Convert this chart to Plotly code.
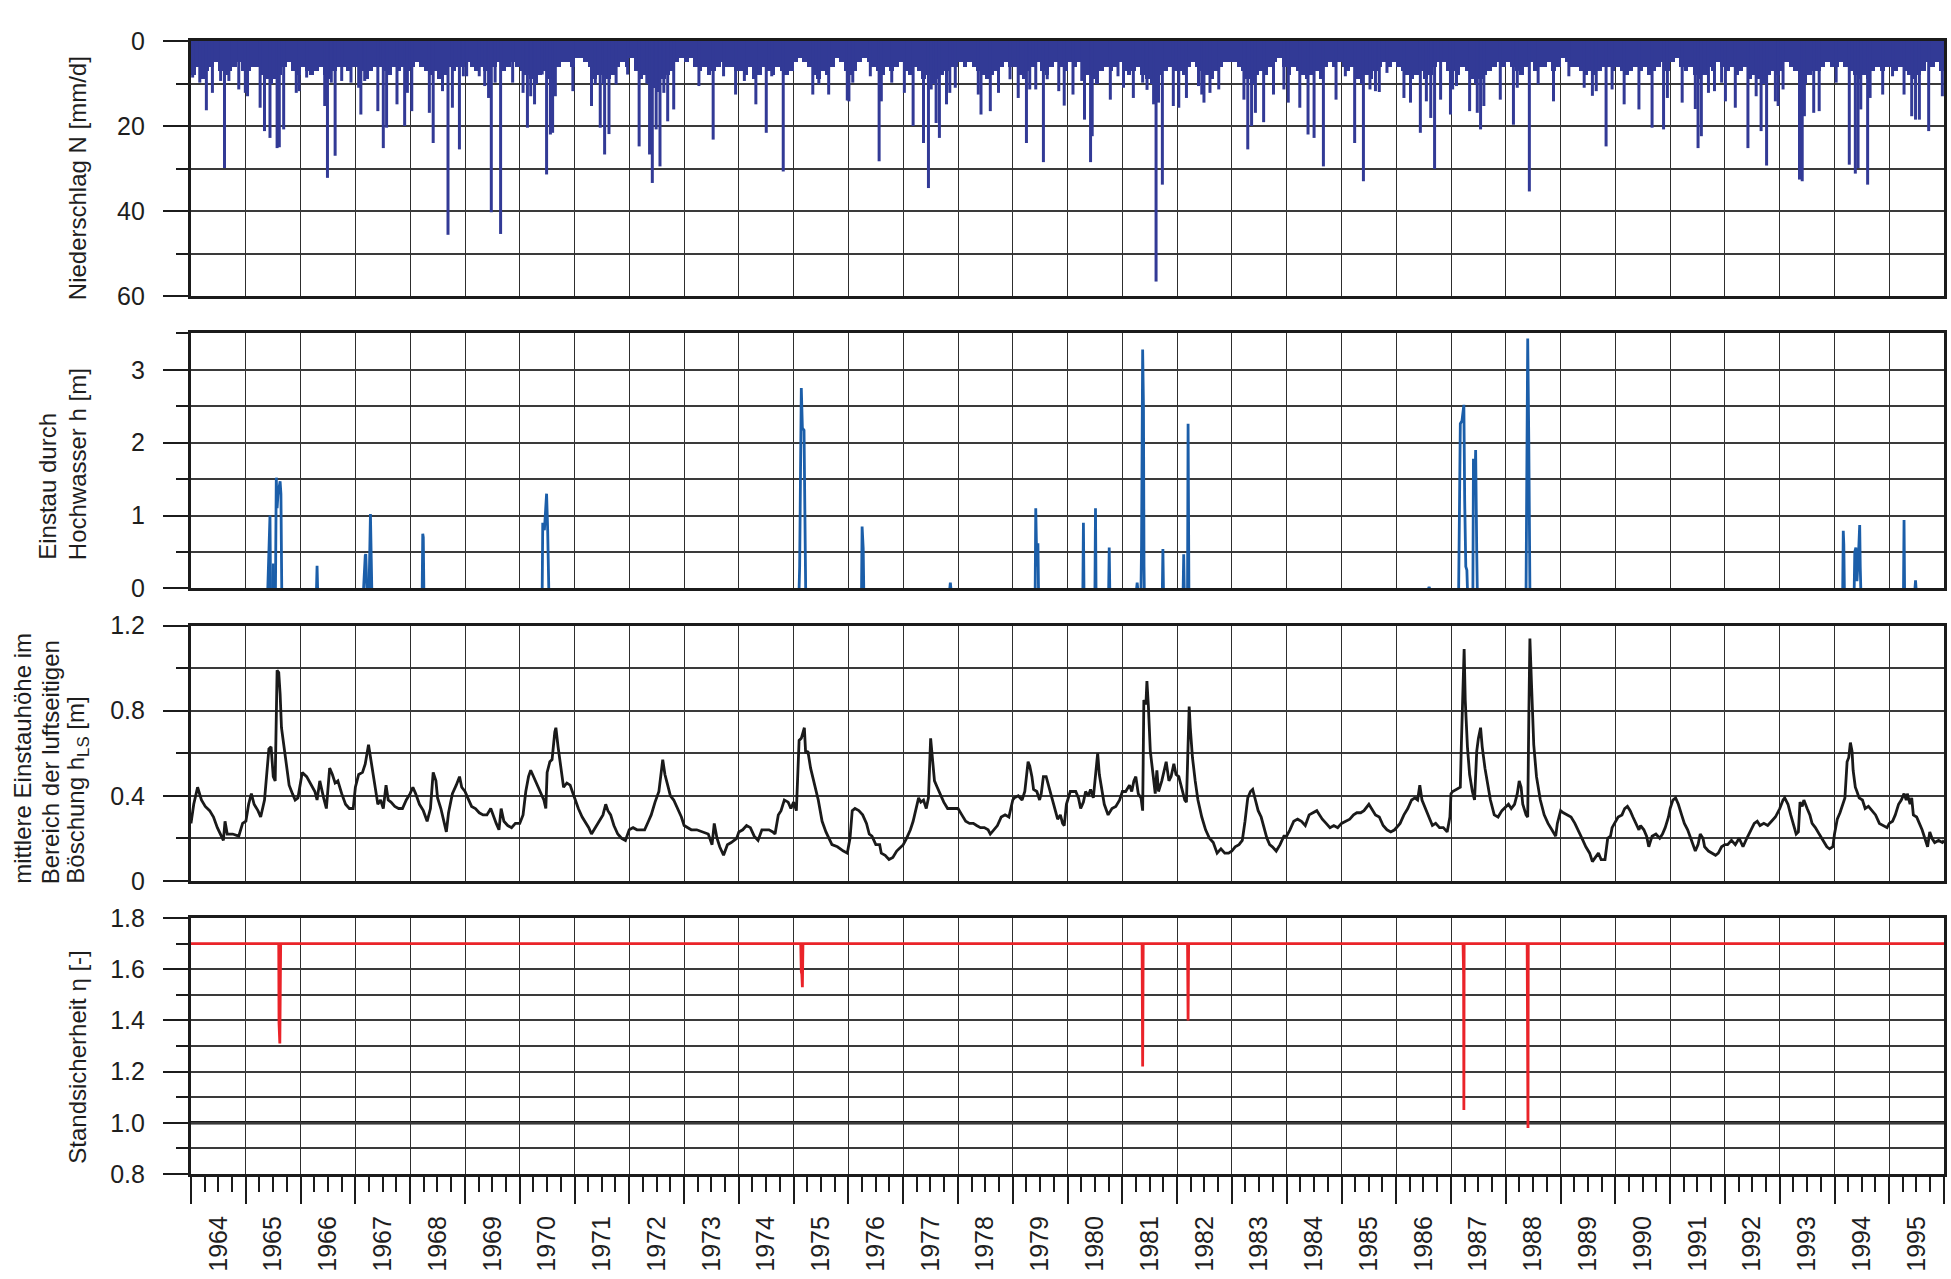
import plotly.graph_objects as go
from datetime import datetime
import calendar

# ---------------- DATA ----------------
years = list(range(1964, 1996))
year_labels = [str(y) for y in years]

# typical monthly depth of the dense daily-precipitation band [mm/d], Jan 1964 .. Dec 1995
precip_base_mm = [
    8,6,9,7,6,5,7,8,7,6,5,7,  7,6,6,8,9,10,9,8,6,5,7,8,  6,7,8,7,6,8,9,7,6,6,7,6,
    6,7,9,7,6,6,7,8,6,7,6,7,  6,5,6,7,8,7,9,8,6,7,6,6,  5,6,7,6,7,8,6,5,7,6,5,6,
    7,8,9,10,8,7,9,9,6,5,5,6, 4,4,5,6,9,8,10,9,8,6,5,6, 4,7,9,8,10,11,12,9,8,7,5,4,
    5,4,6,7,6,8,7,6,5,6,6,7,  7,8,6,9,8,6,7,8,6,7,8,7,  5,4,5,6,8,9,7,8,6,4,5,7,
    8,7,5,4,5,6,7,8,6,7,6,5,  7,8,6,7,9,8,10,9,8,7,6,6, 5,6,5,6,7,8,9,8,7,6,5,6,
    6,8,9,7,6,5,7,8,6,5,6,7,  5,6,5,7,8,9,10,7,6,7,6,5, 7,8,7,6,8,9,10,9,8,7,6,7,
    7,8,6,5,6,7,8,9,7,6,5,5,  5,6,7,9,10,8,7,8,6,5,4,6, 8,6,7,8,9,8,7,9,6,5,6,5,
    6,7,6,9,10,8,9,7,6,5,6,5, 6,7,8,9,8,7,9,8,6,5,5,7,  7,8,6,7,9,10,9,8,7,6,5,6,
    5,6,7,8,6,5,7,6,6,5,7,6,  4,5,6,6,7,8,7,8,7,6,6,7,  6,7,8,7,6,7,6,8,7,6,5,7,
    5,4,6,7,6,8,9,8,6,7,5,6,  7,6,8,7,6,9,8,9,10,8,7,8, 7,5,6,7,9,10,8,7,7,6,5,6,
    6,5,6,7,8,9,8,9,7,6,7,6,  6,7,6,7,8,9,8,7,5,6,5,7,
]

# individual heavy-rain days: (decimal year, mm/d)
precip_spikes = [
    (1964.03,8.6),(1964.16,9.8),(1964.28,16.3),(1964.39,12.2),(1964.54,9.4),(1964.61,29.9),(1964.69,9.4),(1964.87,11.4),(1964.99,12.2),
    (1965.03,13),(1965.26,15.7),(1965.34,21.2),(1965.44,22.8),(1965.57,25.2),(1965.61,25),(1965.69,20.8),(1965.92,12.2),(1965.97,11.8),
    (1966.11,8.6),(1966.44,15.3),(1966.49,32.2),(1966.56,9.8),(1966.63,27),(1966.75,9.4),(1966.92,9.8),
    (1967.06,11),(1967.10,17.3),(1967.17,9.4),(1967.41,16.5),(1967.51,25.2),(1967.57,20.4),(1967.76,14.9),(1967.90,20),(1967.95,12.2),
    (1968.03,16.5),(1968.35,16.9),(1968.42,24),(1968.59,11.8),(1968.69,45.6),(1968.77,15.7),(1968.898,25.5),(1968.97,8.3),
    (1969.03,8.3),(1969.26,8.3),(1969.36,10.6),(1969.43,13.4),(1969.48,40.3),(1969.55,9.8),(1969.65,45.4),(1969.87,9.8),
    (1970.06,12.2),(1970.14,20.4),(1970.20,13),(1970.27,14.9),(1970.41,7.9),(1970.49,31.4),(1970.56,22),(1970.60,21.6),(1970.65,13),(1970.97,11.8),
    (1971.31,15.3),(1971.38,10.2),(1971.47,20.4),(1971.55,26.7),(1971.63,21.9),(1971.76,10.2),(1971.97,7.9),
    (1972.18,24.8),(1972.32,10),(1972.37,26.7),(1972.42,33.4),(1972.49,20.8),(1972.56,29.5),(1972.63,12.2),(1972.70,18.9),(1972.81,16.1),
    (1973.27,10.6),(1973.53,23.2),(1973.72,8.3),(1973.94,12.6),
    (1974.10,9.4),(1974.31,14.9),(1974.50,21.6),(1974.60,8.3),(1974.81,30.7),
    (1975.35,12.6),(1975.46,10.2),(1975.64,12.6),(1975.98,14),
    (1976.01,14.2),(1976.08,9.8),(1976.40,8.3),(1976.56,28.3),(1976.60,14.2),(1976.79,9.8),
    (1977.02,12.2),(1977.18,20),(1977.37,24),(1977.46,34.6),(1977.51,11.4),(1977.60,19.3),(1977.66,22.8),(1977.79,14.9),(1977.85,12.2),(1977.95,11),
    (1978.37,12.6),(1978.42,17.3),(1978.59,16.5),(1978.74,12.2),(1978.95,9),
    (1979.10,13.4),(1979.25,24),(1979.31,11.4),(1979.42,11.4),(1979.56,28.5),(1979.63,9),(1979.84,11.8),(1979.94,15.2),
    (1980.10,12.6),(1980.26,9.4),(1980.31,18.5),(1980.42,28.5),(1980.45,22.4),(1980.78,13.8),(1980.92,8.3),
    (1981.02,11),(1981.20,13.4),(1981.37,9.8),(1981.45,11.5),(1981.57,14.9),(1981.615,56.6),(1981.66,14.5),(1981.73,33.8),(1981.93,15.3),
    (1982.03,15.7),(1982.17,13.4),(1982.39,10.6),(1982.45,12.6),(1982.49,14.5),(1982.60,12.2),(1982.76,11.4),
    (1983.22,13.8),(1983.29,25.5),(1983.36,20),(1983.43,16.9),(1983.58,19.1),(1983.76,12.6),(1983.95,11.4),
    (1984.03,14.5),(1984.24,15.7),(1984.39,22),(1984.50,22.8),(1984.67,29.5),(1984.90,13.8),
    (1985.07,8.3),(1985.24,24),(1985.40,33),(1985.52,11.4),(1985.62,11.8),(1985.69,12),(1985.83,7.5),
    (1986.14,13.4),(1986.26,14.5),(1986.44,21.6),(1986.55,14.2),(1986.63,18.1),(1986.70,30.1),(1986.81,13.8),(1986.99,17.3),
    (1987.03,11.4),(1987.10,10.6),(1987.34,16.5),(1987.48,16.9),(1987.54,20.8),(1987.60,15.3),(1987.90,13.8),
    (1988.14,19.7),(1988.21,11),(1988.43,35.4),(1988.59,10.2),(1988.87,14.2),
    (1989.15,8.3),(1989.43,11),(1989.58,12.9),(1989.65,11.8),(1989.83,24.8),(1989.94,11.4),
    (1990.16,14.9),(1990.43,16.1),(1990.67,20.4),(1990.88,20.8),(1990.95,13.4),
    (1991.22,14.5),(1991.46,16),(1991.51,25.2),(1991.57,22.4),(1991.70,12.2),(1991.81,11.8),(1991.94,9.8),
    (1992.01,14.2),(1992.19,15.7),(1992.42,25.2),(1992.57,13),(1992.66,21.2),(1992.76,29.3),(1992.92,14.2),(1992.97,15.3),
    (1993.06,11.4),(1993.36,32.6),(1993.41,33),(1993.45,17.7),(1993.62,16.9),(1993.72,16.5),
    (1994.03,9.8),(1994.27,29.1),(1994.38,31.2),(1994.43,29.9),(1994.48,16.1),(1994.605,33.8),(1994.65,13.4),(1994.88,12.6),
    (1995.06,8.3),(1995.27,12.6),(1995.41,17.7),(1995.48,18.5),(1995.55,18.5),(1995.72,21.2),(1995.97,13),
]

# flood stage h [m]: one list of (decimal year, m) per flood event
flood_events = [
    [(1965.40,0),(1965.41,0.30),(1965.425,0.90),(1965.44,1.00),(1965.45,0)],
    [(1965.49,0),(1965.50,0.34),(1965.51,0)],
    [(1965.54,0),(1965.555,1.52),(1965.57,1.10),(1965.585,1.28),(1965.625,1.47),(1965.64,1.30),(1965.655,0)],
    [(1966.29,0),(1966.30,0.31),(1966.31,0)],
    [(1967.15,0),(1967.16,0.25),(1967.18,0.45),(1967.19,0.47),(1967.20,0.05),(1967.21,0)],
    [(1967.25,0),(1967.26,0.30),(1967.275,1.02),(1967.29,0.40),(1967.30,0)],
    [(1968.22,0),(1968.23,0.75),(1968.24,0.70),(1968.25,0)],
    [(1970.41,0),(1970.42,0.90),(1970.45,0.80),(1970.49,1.30),(1970.51,0.80),(1970.53,0)],
    [(1975.10,0),(1975.11,0.30),(1975.14,2.75),(1975.16,2.20),(1975.19,2.17),(1975.21,0.50),(1975.22,0)],
    [(1976.24,0),(1976.25,0.85),(1976.27,0.55),(1976.28,0)],
    [(1977.85,0),(1977.86,0.08),(1977.87,0)],
    [(1979.41,0),(1979.42,1.10),(1979.44,0.30),(1979.46,0.62),(1979.47,0)],
    [(1980.28,0),(1980.29,0.90),(1980.30,0)],
    [(1980.50,0),(1980.51,1.10),(1980.52,0)],
    [(1980.75,0),(1980.76,0.56),(1980.77,0)],
    [(1981.26,0),(1981.27,0.08),(1981.28,0)],
    [(1981.34,0),(1981.35,0.60),(1981.37,3.28),(1981.385,2.50),(1981.395,0.30),(1981.40,0)],
    [(1981.73,0),(1981.74,0.54),(1981.75,0)],
    [(1982.11,0),(1982.12,0.47),(1982.13,0)],
    [(1982.19,0),(1982.20,2.26),(1982.215,0)],
    [(1986.59,0),(1986.60,0.02),(1986.61,0)],
    [(1987.14,0),(1987.16,2.00),(1987.17,2.26),(1987.20,2.30),(1987.235,2.52),(1987.25,1.20),(1987.27,0.30),(1987.29,0.25),(1987.30,0)],
    [(1987.40,0),(1987.41,1.78),(1987.44,1.50),(1987.45,1.90),(1987.47,0.50),(1987.48,0)],
    [(1988.37,0),(1988.38,1.50),(1988.40,3.43),(1988.42,2.00),(1988.43,0.80),(1988.44,0)],
    [(1994.15,0),(1994.16,0.79),(1994.17,0.60),(1994.18,0)],
    [(1994.36,0),(1994.37,0.50),(1994.39,0.56),(1994.41,0.10),(1994.44,0.50),(1994.46,0.87),(1994.47,0.30),(1994.48,0)],
    [(1995.26,0),(1995.27,0.94),(1995.28,0)],
    [(1995.47,0),(1995.48,0.11),(1995.49,0)],
]

# mean water level in landside slope h_LS [m]
hls_points = [
    (1964.00,0.27),(1964.05,0.36),(1964.12,0.44),(1964.19,0.38),(1964.26,0.35),(1964.34,0.33),(1964.41,0.30),(1964.48,0.25),(1964.59,0.19),(1964.62,0.28),(1964.66,0.22),(1964.76,0.22),(1964.87,0.21),(1964.94,0.27),
    (1965.00,0.28),(1965.05,0.36),(1965.10,0.41),(1965.15,0.36),(1965.22,0.33),(1965.27,0.30),(1965.34,0.38),(1965.38,0.50),(1965.42,0.62),(1965.46,0.63),(1965.50,0.49),(1965.535,0.47),(1965.57,0.99),(1965.60,0.98),(1965.625,0.88),(1965.65,0.72),(1965.69,0.64),(1965.74,0.55),(1965.79,0.45),(1965.85,0.41),(1965.90,0.38),(1965.95,0.39),
    (1966.00,0.47),(1966.03,0.51),(1966.11,0.49),(1966.19,0.45),(1966.26,0.42),(1966.30,0.38),(1966.35,0.47),(1966.42,0.39),(1966.47,0.34),(1966.53,0.53),(1966.58,0.50),(1966.63,0.46),(1966.68,0.47),(1966.75,0.41),(1966.82,0.36),(1966.89,0.34),(1966.96,0.34),
    (1967.00,0.44),(1967.06,0.50),(1967.13,0.51),(1967.18,0.55),(1967.24,0.64),(1967.28,0.58),(1967.32,0.50),(1967.38,0.41),(1967.41,0.36),(1967.46,0.38),(1967.51,0.34),(1967.56,0.45),(1967.60,0.38),(1967.65,0.37),(1967.72,0.35),(1967.79,0.34),(1967.86,0.34),(1967.93,0.38),
    (1968.00,0.41),(1968.05,0.44),(1968.10,0.41),(1968.17,0.36),(1968.24,0.33),(1968.31,0.28),(1968.37,0.34),(1968.42,0.51),(1968.47,0.47),(1968.50,0.39),(1968.56,0.34),(1968.62,0.27),(1968.66,0.23),(1968.70,0.32),(1968.77,0.41),(1968.84,0.45),(1968.90,0.49),(1968.94,0.44),
    (1969.00,0.42),(1969.05,0.39),(1969.12,0.35),(1969.19,0.34),(1969.26,0.32),(1969.33,0.31),(1969.40,0.31),(1969.47,0.34),(1969.52,0.30),(1969.57,0.27),(1969.62,0.24),(1969.66,0.34),(1969.71,0.28),(1969.78,0.26),(1969.85,0.25),(1969.92,0.27),
    (1970.00,0.27),(1970.06,0.31),(1970.11,0.42),(1970.16,0.49),(1970.20,0.52),(1970.25,0.49),(1970.30,0.46),(1970.37,0.42),(1970.44,0.38),(1970.476,0.34),(1970.50,0.51),(1970.55,0.56),(1970.59,0.57),(1970.64,0.70),(1970.66,0.72),(1970.70,0.63),(1970.76,0.50),(1970.80,0.44),(1970.86,0.46),(1970.92,0.45),(1970.96,0.42),
    (1971.00,0.39),(1971.07,0.34),(1971.14,0.30),(1971.21,0.27),(1971.26,0.25),(1971.31,0.22),(1971.38,0.25),(1971.45,0.28),(1971.52,0.31),(1971.57,0.36),(1971.61,0.33),(1971.66,0.31),(1971.72,0.26),(1971.79,0.22),(1971.86,0.20),(1971.93,0.19),(1971.97,0.22),
    (1972.00,0.24),(1972.07,0.25),(1972.14,0.24),(1972.21,0.24),(1972.28,0.24),(1972.35,0.28),(1972.40,0.31),(1972.47,0.37),(1972.54,0.42),(1972.61,0.57),(1972.65,0.50),(1972.70,0.45),(1972.75,0.40),(1972.81,0.38),(1972.88,0.34),(1972.95,0.30),
    (1973.00,0.26),(1973.06,0.25),(1973.13,0.24),(1973.23,0.24),(1973.34,0.23),(1973.44,0.22),(1973.51,0.17),(1973.55,0.27),(1973.60,0.20),(1973.65,0.16),(1973.72,0.12),(1973.79,0.17),(1973.86,0.18),(1973.96,0.20),
    (1974.00,0.23),(1974.07,0.24),(1974.14,0.26),(1974.21,0.25),(1974.28,0.21),(1974.35,0.19),(1974.42,0.24),(1974.49,0.24),(1974.55,0.24),(1974.62,0.23),(1974.66,0.22),(1974.72,0.31),(1974.77,0.33),(1974.83,0.38),(1974.90,0.37),(1974.95,0.34),
    (1975.00,0.37),(1975.05,0.33),(1975.10,0.66),(1975.14,0.67),(1975.196,0.72),(1975.22,0.60),(1975.26,0.61),(1975.31,0.53),(1975.38,0.45),(1975.45,0.38),(1975.52,0.28),(1975.59,0.23),(1975.70,0.17),(1975.80,0.16),(1975.91,0.14),(1975.98,0.13),
    (1976.03,0.20),(1976.07,0.33),(1976.12,0.34),(1976.19,0.33),(1976.26,0.31),(1976.33,0.27),(1976.38,0.22),(1976.43,0.21),(1976.50,0.17),(1976.57,0.17),(1976.60,0.13),(1976.67,0.12),(1976.74,0.10),(1976.81,0.11),(1976.88,0.14),(1976.95,0.16),
    (1977.00,0.17),(1977.06,0.20),(1977.13,0.24),(1977.18,0.28),(1977.23,0.33),(1977.28,0.39),(1977.32,0.37),(1977.37,0.38),(1977.42,0.34),(1977.46,0.39),(1977.50,0.67),(1977.53,0.58),(1977.57,0.47),(1977.62,0.44),(1977.67,0.41),(1977.74,0.37),(1977.81,0.34),(1977.88,0.34),(1977.95,0.34),
    (1978.00,0.34),(1978.07,0.31),(1978.14,0.28),(1978.21,0.27),(1978.28,0.27),(1978.34,0.26),(1978.41,0.25),(1978.48,0.25),(1978.55,0.24),(1978.59,0.22),(1978.66,0.24),(1978.72,0.26),(1978.79,0.30),(1978.86,0.31),(1978.93,0.30),
    (1979.00,0.38),(1979.03,0.39),(1979.10,0.40),(1979.17,0.38),(1979.22,0.42),(1979.28,0.56),(1979.31,0.54),(1979.35,0.49),(1979.38,0.43),(1979.44,0.42),(1979.49,0.38),(1979.52,0.41),(1979.56,0.49),(1979.61,0.49),(1979.66,0.44),(1979.71,0.39),(1979.77,0.33),(1979.82,0.29),(1979.87,0.31),(1979.91,0.27),(1979.94,0.26),(1979.98,0.36),
    (1980.05,0.42),(1980.10,0.42),(1980.15,0.42),(1980.20,0.39),(1980.24,0.34),(1980.29,0.37),(1980.33,0.42),(1980.38,0.40),(1980.42,0.43),(1980.47,0.39),(1980.52,0.53),(1980.55,0.60),(1980.58,0.50),(1980.63,0.41),(1980.67,0.36),(1980.74,0.31),(1980.81,0.34),(1980.88,0.35),(1980.95,0.38),
    (1981.00,0.42),(1981.06,0.42),(1981.13,0.45),(1981.17,0.42),(1981.21,0.47),(1981.245,0.49),(1981.29,0.41),(1981.34,0.39),(1981.37,0.33),(1981.392,0.85),(1981.43,0.83),(1981.448,0.94),(1981.475,0.82),(1981.51,0.61),(1981.56,0.50),(1981.60,0.41),(1981.63,0.52),(1981.66,0.42),(1981.72,0.47),(1981.77,0.53),(1981.80,0.56),(1981.85,0.47),(1981.89,0.49),(1981.94,0.55),(1981.98,0.50),
    (1982.03,0.49),(1982.08,0.44),(1982.14,0.38),(1982.17,0.37),(1982.20,0.61),(1982.22,0.82),(1982.24,0.72),(1982.28,0.58),(1982.33,0.47),(1982.38,0.38),(1982.45,0.30),(1982.52,0.24),(1982.59,0.20),(1982.66,0.18),(1982.73,0.13),(1982.80,0.15),(1982.87,0.13),(1982.94,0.13),
    (1983.00,0.14),(1983.06,0.16),(1983.13,0.17),(1983.19,0.19),(1983.24,0.28),(1983.29,0.39),(1983.34,0.42),(1983.38,0.43),(1983.43,0.38),(1983.48,0.33),(1983.535,0.30),(1983.58,0.26),(1983.64,0.20),(1983.69,0.17),(1983.74,0.16),(1983.81,0.14),(1983.88,0.17),(1983.95,0.21),
    (1984.00,0.21),(1984.06,0.24),(1984.13,0.28),(1984.20,0.29),(1984.27,0.28),(1984.34,0.26),(1984.41,0.31),(1984.48,0.32),(1984.55,0.33),(1984.60,0.31),(1984.65,0.29),(1984.72,0.27),(1984.79,0.25),(1984.86,0.26),(1984.93,0.25),
    (1985.00,0.27),(1985.08,0.28),(1985.15,0.29),(1985.22,0.31),(1985.28,0.32),(1985.35,0.32),(1985.41,0.33),(1985.50,0.36),(1985.55,0.34),(1985.62,0.31),(1985.69,0.30),(1985.76,0.26),(1985.83,0.24),(1985.90,0.23),(1985.97,0.24),
    (1986.07,0.27),(1986.14,0.31),(1986.21,0.34),(1986.28,0.38),(1986.34,0.39),(1986.39,0.38),(1986.43,0.45),(1986.47,0.38),(1986.52,0.35),(1986.59,0.30),(1986.66,0.26),(1986.72,0.27),(1986.79,0.25),(1986.86,0.25),(1986.93,0.23),(1986.98,0.30),
    (1987.00,0.41),(1987.03,0.42),(1987.10,0.43),(1987.17,0.44),(1987.19,0.65),(1987.22,0.88),(1987.24,1.09),(1987.26,0.85),(1987.30,0.63),(1987.34,0.50),(1987.39,0.42),(1987.43,0.38),(1987.47,0.61),(1987.50,0.67),(1987.54,0.72),(1987.57,0.63),(1987.62,0.53),(1987.68,0.44),(1987.72,0.38),(1987.79,0.31),(1987.86,0.30),(1987.93,0.33),
    (1988.00,0.35),(1988.05,0.36),(1988.10,0.34),(1988.16,0.36),(1988.21,0.41),(1988.245,0.47),(1988.28,0.44),(1988.31,0.36),(1988.37,0.31),(1988.40,0.30),(1988.42,0.77),(1988.44,1.14),(1988.47,0.92),(1988.51,0.64),(1988.56,0.49),(1988.63,0.38),(1988.70,0.31),(1988.77,0.27),(1988.84,0.24),(1988.91,0.21),(1988.94,0.27),
    (1989.00,0.33),(1989.05,0.32),(1989.12,0.31),(1989.19,0.30),(1989.26,0.27),(1989.32,0.24),(1989.39,0.20),(1989.46,0.16),(1989.53,0.13),(1989.58,0.09),(1989.63,0.11),(1989.69,0.13),(1989.74,0.10),(1989.81,0.10),(1989.86,0.20),(1989.91,0.21),(1989.94,0.25),
    (1990.00,0.28),(1990.05,0.30),(1990.12,0.31),(1990.17,0.34),(1990.22,0.35),(1990.27,0.33),(1990.32,0.30),(1990.38,0.27),(1990.43,0.24),(1990.46,0.26),(1990.52,0.24),(1990.57,0.21),(1990.61,0.16),(1990.67,0.21),(1990.74,0.22),(1990.81,0.20),(1990.86,0.22),(1990.91,0.25),(1990.97,0.30),
    (1991.00,0.34),(1991.05,0.38),(1991.10,0.39),(1991.15,0.36),(1991.21,0.31),(1991.26,0.27),(1991.32,0.24),(1991.39,0.19),(1991.46,0.14),(1991.51,0.17),(1991.55,0.22),(1991.60,0.20),(1991.63,0.16),(1991.70,0.14),(1991.77,0.13),(1991.83,0.12),(1991.88,0.13),(1991.94,0.16),
    (1992.00,0.17),(1992.05,0.17),(1992.12,0.19),(1992.19,0.17),(1992.26,0.20),(1992.33,0.16),(1992.40,0.20),(1992.47,0.24),(1992.535,0.27),(1992.59,0.28),(1992.64,0.26),(1992.71,0.27),(1992.78,0.26),(1992.85,0.28),(1992.92,0.30),
    (1993.00,0.34),(1993.06,0.38),(1993.09,0.39),(1993.15,0.36),(1993.20,0.31),(1993.24,0.27),(1993.30,0.22),(1993.34,0.23),(1993.37,0.37),(1993.41,0.35),(1993.44,0.38),(1993.50,0.34),(1993.55,0.31),(1993.59,0.27),(1993.65,0.25),(1993.72,0.22),(1993.79,0.19),(1993.86,0.16),(1993.91,0.15),(1993.97,0.16),
    (1994.00,0.22),(1994.05,0.29),(1994.10,0.32),(1994.15,0.36),(1994.19,0.39),(1994.23,0.56),(1994.26,0.58),(1994.29,0.65),(1994.32,0.61),(1994.34,0.52),(1994.38,0.44),(1994.41,0.42),(1994.45,0.39),(1994.51,0.38),(1994.56,0.34),(1994.62,0.35),(1994.68,0.33),(1994.75,0.31),(1994.82,0.27),(1994.89,0.26),(1994.96,0.25),
    (1995.00,0.27),(1995.06,0.28),(1995.11,0.31),(1995.17,0.36),(1995.22,0.38),(1995.27,0.41),(1995.31,0.38),(1995.33,0.41),(1995.38,0.36),(1995.41,0.39),(1995.44,0.31),(1995.50,0.30),(1995.55,0.27),(1995.60,0.24),(1995.65,0.20),(1995.70,0.16),(1995.74,0.23),(1995.78,0.20),(1995.83,0.18),(1995.90,0.19),(1995.97,0.18),(1996.00,0.19),
]

# safety factor eta [-]
eta_points = [
    (1964.00,1.70),
    (1965.60,1.70),(1965.605,1.39),(1965.62,1.31),(1965.635,1.70),
    (1975.13,1.70),(1975.14,1.59),(1975.15,1.58),(1975.16,1.53),(1975.17,1.70),
    (1981.36,1.70),(1981.37,1.22),(1981.38,1.70),
    (1982.19,1.70),(1982.20,1.40),(1982.21,1.70),
    (1987.22,1.70),(1987.225,1.59),(1987.23,1.58),(1987.235,1.05),(1987.24,1.70),
    (1988.39,1.70),(1988.40,1.28),(1988.405,0.98),(1988.41,1.70),
    (1996.00,1.70),
]
eta_limit = 1.0

# ---------------- helpers ----------------
def dec2dt(y):
    yr = int(y)
    start, end = datetime(yr, 1, 1), datetime(yr + 1, 1, 1)
    return start + (end - start) * (y - yr)

BLUE_N = "#323a96"
BLUE_H = "#1b5ea9"
RED = "#ea2329"
INK = "#1b1b1b"
GRID_V = "#2e2e2e"
GRID_H = "#3a3a3a"

# precipitation base (monthly bars)
base_x, base_w = [], []
for i, v in enumerate(precip_base_mm):
    yr, mo = 1964 + i // 12, i % 12 + 1
    base_x.append(datetime(yr, mo, 1))
    base_w.append(calendar.monthrange(yr, mo)[1] * 86400000)

sp_x, sp_y = [], []
for t, v in precip_spikes:
    d = dec2dt(t)
    sp_x += [d, d, None]
    sp_y += [0, v, None]

fl_x, fl_y = [], []
for ev in flood_events:
    for t, v in ev:
        fl_x.append(dec2dt(t))
        fl_y.append(v)
    fl_x.append(None)
    fl_y.append(None)

fig = go.Figure()
fig.add_trace(go.Bar(x=base_x, y=precip_base_mm, width=base_w, offset=0,
                     marker=dict(color=BLUE_N, line=dict(width=0)),
                     xaxis="x", yaxis="y", showlegend=False, name="N"))
fig.add_trace(go.Scatter(x=sp_x, y=sp_y, mode="lines", line=dict(color=BLUE_N, width=3),
                         xaxis="x", yaxis="y", showlegend=False, name="N Spitzen"))
fig.add_trace(go.Scatter(x=fl_x, y=fl_y, mode="lines", line=dict(color=BLUE_H, width=2.8),
                         connectgaps=False, xaxis="x2", yaxis="y2", showlegend=False, name="h"))
fig.add_trace(go.Scatter(x=[dec2dt(t) for t, _ in hls_points], y=[v for _, v in hls_points],
                         mode="lines", line=dict(color="#1a1a1a", width=2.8),
                         xaxis="x3", yaxis="y3", showlegend=False, name="hLS"))
fig.add_trace(go.Scatter(x=[dec2dt(t) for t, _ in eta_points], y=[v for _, v in eta_points],
                         mode="lines", line=dict(color=RED, width=2.8),
                         xaxis="x4", yaxis="y4", showlegend=False, name="eta"))

# ---------------- layout ----------------
W, H = 1951, 1279
L, R, T, B = 191, 4, 41, 105
PH = H - T - B
PW = W - L - R
def py(pix):   # pixel row -> paper y
    return (H - B - pix) / PH
def px(pix):   # pixel column -> paper x
    return (pix - L) / PW

TICKFONT = dict(family="Liberation Sans, Arial, sans-serif", size=25, color="#1e1e1e")
TITLEFONT = dict(family="Liberation Sans, Arial, sans-serif", size=24, color="#1e1e1e")

xcommon = dict(type="date", range=[datetime(1964, 1, 1), datetime(1996, 1, 1)],
               dtick="M12", tick0="1964-01-01", showgrid=True, gridcolor=GRID_V, gridwidth=1.3,
               showline=True, mirror=True, linecolor=INK, linewidth=3.2, zeroline=False)

domains = {1: (py(296), py(41)), 2: (py(588.4), py(333.4)),
           3: (py(880.8), py(625.7)), 4: (0, py(918))}

layout = dict(width=W, height=H, margin=dict(l=L, r=R, t=T, b=B, pad=0),
              paper_bgcolor="white", plot_bgcolor="white", bargap=0, showlegend=False)

for k in (1, 2, 3):
    name = "xaxis" if k == 1 else f"xaxis{k}"
    layout[name] = dict(xcommon, anchor="y" if k == 1 else f"y{k}", matches="x4",
                        ticks="", showticklabels=False)
layout["xaxis4"] = dict(xcommon, anchor="y4", ticks="outside", ticklen=27, tickwidth=2.2,
                        tickcolor=INK, ticklabelmode="period", tickformat="%Y", tickangle=-90,
                        tickfont=TICKFONT, ticklabelstandoff=2,
                        minor=dict(dtick="M3", ticks="outside", ticklen=15, tickwidth=2,
                                   tickcolor=INK, showgrid=False))

ycommon = dict(showgrid=True, gridcolor=GRID_H, gridwidth=1.6, showline=True, mirror=True,
               linecolor=INK, linewidth=3.2, zeroline=False, ticks="outside", ticklen=25,
               tickwidth=2.2, tickcolor=INK, tickfont=TICKFONT, ticklabelstandoff=13)
def ymin(d):
    return dict(dtick=d, ticks="outside", ticklen=12, tickwidth=2, tickcolor=INK,
                showgrid=True, gridcolor=GRID_H, gridwidth=1.6)

layout["yaxis"] = dict(ycommon, domain=domains[1], anchor="x", range=[60, 0],
                       tick0=0, dtick=20, minor=ymin(10))
layout["yaxis2"] = dict(ycommon, domain=domains[2], anchor="x2", range=[0, 3.5],
                        tick0=0, dtick=1, minor=ymin(0.5))
layout["yaxis3"] = dict(ycommon, domain=domains[3], anchor="x3", range=[0, 1.2],
                        tick0=0, dtick=0.4, minor=ymin(0.2))
layout["yaxis4"] = dict(ycommon, domain=domains[4], anchor="x4", range=[0.8, 1.8],
                        tick0=0.8, dtick=0.2, tickformat=".1f", minor=ymin(0.1))
fig.update_layout(**layout)

fig.add_shape(type="line", xref="x4 domain", x0=0, x1=1, yref="y4", y0=eta_limit, y1=eta_limit,
              line=dict(color=INK, width=3.5), layer="below")

titles = [
    ("Niederschlag N [mm/d]", 77, 302),
    ("Einstau durch", 47, 562), ("Hochwasser h [m]", 77, 562),
    ("mittlere Einstauhöhe im", 22, 886), ("Bereich der luftseitigen", 50, 886),
    ("Böschung h<sub>LS</sub> [m]", 77, 886),
    ("Standsicherheit η [-]", 77, 1166),
]
for txt, xx, yb in titles:
    fig.add_annotation(text=txt, xref="paper", yref="paper", x=px(xx), y=py(yb),
                       xanchor="center", yanchor="bottom", textangle=-90, showarrow=False,
                       font=TITLEFONT, align="left")

fig.write_html("out.html")
